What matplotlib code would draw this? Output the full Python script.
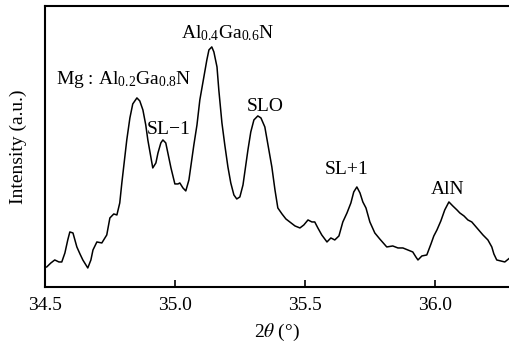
import matplotlib.pyplot as plt

plt.rcParams['font.family'] = 'Liberation Serif'
plt.rcParams['mathtext.fontset'] = 'stix'
plt.rcParams['mathtext.default'] = 'regular'

# 2theta (deg)
two_theta = [34.507, 34.523, 34.538, 34.554, 34.565, 34.577, 34.588, 34.596, 34.608, 34.623,
             34.635, 34.646, 34.665, 34.677, 34.685, 34.700, 34.719, 34.738, 34.750, 34.765,
             34.777, 34.788, 34.796, 34.804, 34.815, 34.827, 34.838, 34.854, 34.865, 34.877,
             34.888, 34.896, 34.908, 34.915, 34.927, 34.935, 34.946, 34.954, 34.965, 34.973,
             34.985, 35.000, 35.012, 35.019, 35.031, 35.042, 35.054, 35.062, 35.073, 35.085,
             35.096, 35.108, 35.123, 35.131, 35.142, 35.150, 35.162, 35.169, 35.181, 35.192,
             35.204, 35.215, 35.227, 35.238, 35.250, 35.262, 35.273, 35.281, 35.292, 35.304,
             35.319, 35.331, 35.346, 35.358, 35.373, 35.385, 35.396, 35.412, 35.427, 35.442,
             35.462, 35.481, 35.496, 35.512, 35.527, 35.538, 35.550, 35.565, 35.585, 35.600,
             35.615, 35.631, 35.646, 35.662, 35.677, 35.688, 35.700, 35.712, 35.723, 35.735,
             35.750, 35.769, 35.788, 35.815, 35.838, 35.858, 35.877, 35.896, 35.915, 35.927,
             35.935, 35.950, 35.969, 35.985, 35.996, 36.008, 36.023, 36.038, 36.054, 36.069,
             36.085, 36.096, 36.112, 36.127, 36.142, 36.162, 36.185, 36.204, 36.219, 36.227,
             36.238, 36.254, 36.269, 36.288]
# intensity (a.u.)
intensity = [20, 24, 27, 25, 25, 34, 47, 55, 54, 40,
             33, 27, 19, 27, 37, 45, 44, 52, 69, 73,
             72, 84, 104, 122, 147, 169, 183, 189, 186, 177,
             162, 147, 129, 119, 124, 134, 144, 147, 144, 134,
             119, 103, 103, 104, 99, 96, 107, 122, 142, 162,
             187, 205, 227, 237, 240, 235, 220, 197, 164, 142,
             120, 104, 92, 88, 90, 102, 122, 137, 155, 167,
             171, 169, 160, 142, 120, 97, 79, 73, 68, 65,
             61, 59, 62, 67, 65, 65, 59, 52, 45, 49,
             47, 51, 65, 74, 84, 95, 100, 94, 85, 79,
             65, 54, 48, 40, 41, 39, 39, 37, 35, 30,
             27, 31, 32, 43, 51, 57, 66, 77, 85, 81,
             77, 74, 71, 67, 65, 59, 52, 47, 40, 33,
             27, 26, 25, 29]

peak_labels = ['Mg : Al$_{0.2}$Ga$_{0.8}$N', 'SL$-$1', 'Al$_{0.4}$Ga$_{0.6}$N',
               'SLO', 'SL+1', 'AlN']
label_x = [34.804, 34.973, 35.204, 35.346, 35.662, 36.050]
label_y = [207, 157, 254, 180, 117, 97]

fig = plt.figure(figsize=(5.1, 3.47), dpi=100)
ax = fig.add_axes([0.088, 0.173, 0.912, 0.81])
ax.plot(two_theta, intensity, color='black', linewidth=1.1)

for s, x, y in zip(peak_labels, label_x, label_y):
    ax.text(x, y, s, ha='center', va='center', fontsize=14)

ax.set_xlim(34.5, 36.289)
ax.set_ylim(0, 281)
ax.set_xticks([34.5, 35.0, 35.5, 36.0])
ax.set_xticklabels(['34.5', '35.0', '35.5', '36.0'])
ax.set_yticks([])
ax.tick_params(axis='x', direction='in', length=5, width=1.2, labelsize=14, pad=7)
for side in ['left', 'bottom', 'top']:
    ax.spines[side].set_linewidth(1.5)
ax.spines['right'].set_visible(False)
ax.set_xlabel(r'2$\it{\theta}$ (°)', fontsize=14, labelpad=6)
ax.set_ylabel('Intensity (a.u.)', fontsize=14, labelpad=13)

plt.savefig('out.png', dpi=100)
